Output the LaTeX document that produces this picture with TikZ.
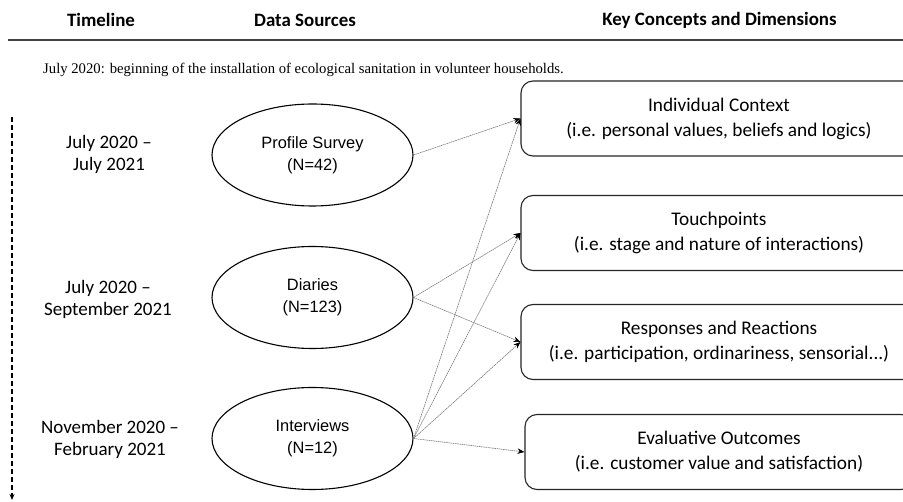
\documentclass[tikz,border=0pt]{standalone}
\usepackage{fontspec}
\setmainfont{Carlito}
\newfontfamily\arialfont{Liberation Sans}
\newfontfamily\tnrfont{Liberation Serif}
\usetikzlibrary{arrows.meta,shapes.geometric}
\begin{document}
\begin{tikzpicture}[x=1pt,y=-1pt,
  hdr/.style={font=\fontsize{18.9}{22}\selectfont\bfseries, anchor=center},
  tltext/.style={font=\fontsize{19}{22}\selectfont, align=center, anchor=center},
  src/.style={ellipse, draw=black, line width=1.1pt, minimum width=201pt, minimum height=102pt,
      inner sep=0pt, align=center, font=\arialfont\fontsize{16.4}{22}\selectfont},
  concept/.style={draw=black!85, line width=1.1pt, rounded corners=12pt, minimum height=75pt,
      align=center, inner sep=0pt, font=\fontsize{19.3}{25}\selectfont},
  link/.style={draw=black!55, line width=0.55pt, dash pattern=on 1.6pt off 0.6pt,
      -{Stealth[black,length=7pt,width=5.5pt]}},
]
\useasboundingbox (0,0) rectangle (903,502);
\fill[white] (0,0) rectangle (903,502);

% headers
\node[hdr] (h1) at (101,20) {Timeline};
\node[hdr] (h2) at (305,20) {Data Sources};
\node[hdr] (h3) at (719.5,20) {Key Concepts and Dimensions};
\coordinate (rl) at (8,40);
\coordinate (rr) at (903,40);
\draw[line width=1.4pt, black!75] (rl) -- (rr);

% note
\node[anchor=west, font=\tnrfont\fontsize{14.7}{17}\selectfont, inner sep=0pt] (note) at (43,70)
  {July 2020: beginning of the installation of ecological sanitation in volunteer households.};

% timeline arrow
\coordinate (ttop) at (12,117);
\coordinate (tbot) at (12,500);
\draw[line width=1.4pt, dash pattern=on 5pt off 3pt, -{Stealth[length=6pt,width=5pt]}] (ttop) -- (tbot);

% timeline texts
\node[tltext] (t1) at (109,154) {July 2020 --\\July 2021};
\node[tltext] (t2) at (108,299) {July 2020 --\\September 2021};
\node[tltext] (t3) at (110,439) {November 2020 --\\February 2021};

% sources
\node[src] (ps) at (312.5,155) {Profile Survey\\(N=42)};
\node[src] (di) at (312.5,297.5) {Diaries\\(N=123)};
\node[src] (iv) at (312.5,438.5) {Interviews\\(N=12)};

% concepts
\node[concept, minimum width=396pt] (c1) at (719,118.5) {Individual Context\\(i.e. personal values, beliefs and logics)};
\node[concept, minimum width=396pt] (c2) at (719,233) {Touchpoints\\(i.e. stage and nature of interactions)};
\node[concept, minimum width=396pt] (c3) at (719,342) {Responses and Reactions\\(i.e. participation, ordinariness, sensorial...)};
\node[concept, minimum width=388pt] (c4) at (719,452) {Evaluative Outcomes\\(i.e. customer value and satisfaction)};

% links
\draw[link] (ps.east) -- (c1.west);
\draw[link] (di.east) -- (c2.west);
\draw[link] (di.east) -- (c3.west);
\draw[link] (iv.east) -- (c1.west);
\draw[link] (iv.east) -- (c2.west);
\draw[link] (iv.east) -- (c3.west);
\draw[link] (iv.east) -- (c4.west);
\end{tikzpicture}
\end{document}
